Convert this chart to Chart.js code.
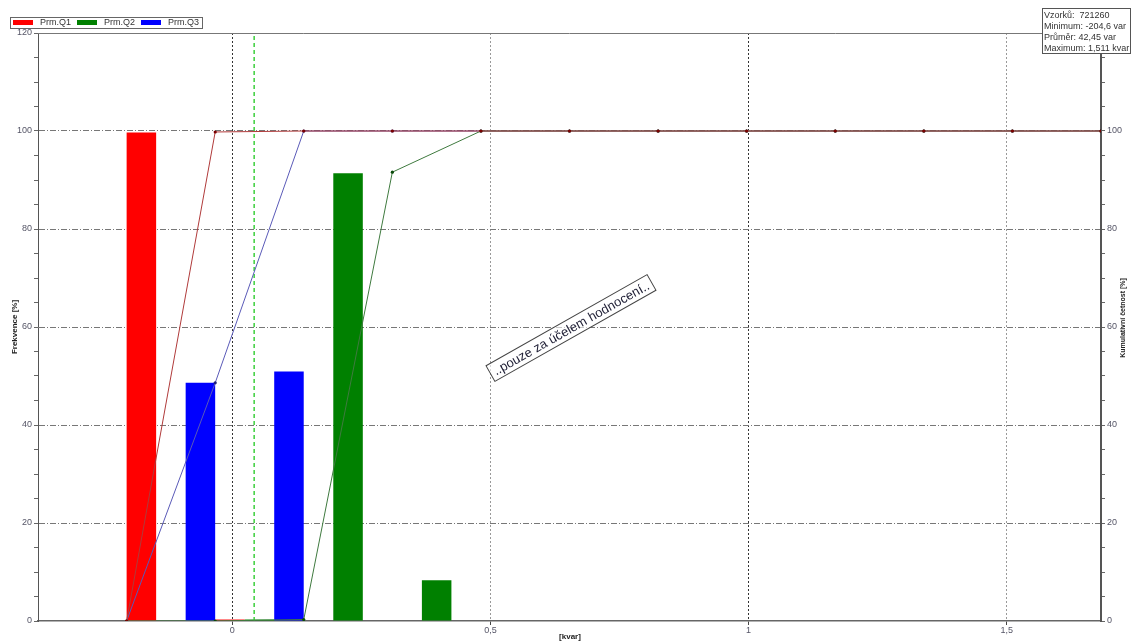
<!DOCTYPE html>
<html>
<head>
<meta charset="utf-8">
<script src="https://cdn.jsdelivr.net/npm/chart.js@4/dist/chart.umd.min.js"></script>
<style>
  html, body { margin: 0; padding: 0; background: #fff; }
  #wrap { width: 1133px; height: 644px; }
</style>
</head>
<body>
<div id="wrap"><canvas id="histChart" width="1133" height="644"></canvas></div>
<script>
// ================== Data ==================
const seriesLabels = ["Prm.Q1", "Prm.Q2", "Prm.Q3"];
const seriesColors = ["#ff0000", "#008000", "#0000ff"];
const cumColors = ["#b03a3a", "#3f7a3f", "#5a5ab8"];
const cumPointColors = ["#7a0000", "#0b4a0b", "#20207a"];

// histogram bins [kvar]
const binCenters = [-0.1188, 0.0527, 0.2243, 0.3959, 0.5675, 0.7390, 0.9106, 1.0821, 1.2537, 1.4253];
const binEdges = [-0.2046, -0.0330, 0.1385, 0.3101, 0.4817, 0.6532, 0.8248, 0.9963, 1.1679, 1.3395, 1.5110, 1.6826];

// frequency [%]
const freqQ1 = [99.7, 0.3, 0, 0, 0, 0, 0, 0, 0, 0];
const freqQ2 = [0, 0.3, 91.4, 8.3, 0, 0, 0, 0, 0, 0];
const freqQ3 = [48.6, 50.9, 0, 0, 0, 0, 0, 0, 0, 0];

// cumulative frequency [%] at bin edges
const cumQ1 = [0, 99.8, 100, 100, 100, 100, 100, 100, 100, 100, 100, 100];
const cumQ2 = [0, 0, 0.3, 91.6, 100, 100, 100, 100, 100, 100, 100, 100];
const cumQ3 = [0, 48.6, 100, 100, 100, 100, 100, 100, 100, 100, 100, 100];

const meanKvar = 0.04245;
const xRange = [-0.3762, 1.6826];
const xTickValues = [0, 0.5, 1, 1.5];
const yRange = [0, 120];
const infoLines = ["Vzorků:  721260", "Minimum: -204,6 var", "Průměr: 42,45 var", "Maximum: 1,511 kvar"];
const watermark = "..pouze za účelem hodnocení..";

const FONT = '"Liberation Sans", Arial, sans-serif';
Chart.defaults.font.family = FONT;

const toPoints = (xs, ys) => xs.map((x, i) => ({ x, y: ys[i] }));

// ----- extra drawing: legend box, info box, watermark, axis titles -----
const decorPlugin = {
  id: "decor",
  afterDraw(chart) {
    const { ctx, chartArea: a } = chart;
    ctx.save();

    // top border of the plot
    ctx.strokeStyle = "#777";
    ctx.lineWidth = 1;
    ctx.beginPath();
    ctx.moveTo(a.left, a.top + 0.5);
    ctx.lineTo(a.right, a.top + 0.5);
    ctx.stroke();

    // legend
    ctx.fillStyle = "#fff";
    ctx.fillRect(10, 17, 192, 11);
    ctx.strokeStyle = "#666";
    ctx.strokeRect(10.5, 17.5, 192, 11);
    ctx.font = "9px " + FONT;
    ctx.textBaseline = "middle";
    const bars = chart.data.datasets.filter(d => d.type === "bar");
    let lx = 13;
    bars.forEach(d => {
      ctx.fillStyle = d.backgroundColor;
      ctx.fillRect(lx, 20, 20, 5);
      ctx.fillStyle = "#333";
      ctx.fillText(d.label, lx + 27, 23);
      lx += 64;
    });

    // info box
    ctx.fillStyle = "#fff";
    ctx.fillRect(1042, 8, 88, 45);
    ctx.strokeStyle = "#555";
    ctx.strokeRect(1042.5, 8.5, 88, 45);
    ctx.fillStyle = "#333";
    ctx.textBaseline = "alphabetic";
    infoLines.forEach((t, i) => ctx.fillText(t, 1044, 18 + i * 11));

    // watermark
    ctx.translate(571, 328);
    ctx.rotate(-29.5 * Math.PI / 180);
    ctx.font = "13px " + FONT;
    const w = ctx.measureText(watermark).width + 8;
    ctx.fillStyle = "rgba(255,255,255,0.6)";
    ctx.fillRect(-w / 2, -9, w, 18);
    ctx.strokeStyle = "#444";
    ctx.strokeRect(-w / 2, -9, w, 18);
    ctx.fillStyle = "#222238";
    ctx.textAlign = "center";
    ctx.textBaseline = "middle";
    ctx.fillText(watermark, 0, 1);
    ctx.setTransform(1, 0, 0, 1, 0, 0);

    // axis titles
    ctx.fillStyle = "#222";
    ctx.textAlign = "center";
    ctx.textBaseline = "middle";
    ctx.font = "bold 8px " + FONT;
    ctx.fillText("[kvar]", 570, 637);
    ctx.translate(15, 327);
    ctx.rotate(-Math.PI / 2);
    ctx.fillText("Frekvence [%]", 0, 0);
    ctx.setTransform(1, 0, 0, 1, 0, 0);
    ctx.font = "bold 7px " + FONT;
    ctx.translate(1123, 318);
    ctx.rotate(-Math.PI / 2);
    ctx.fillText("Kumulativní četnost [%]", 0, 0);

    ctx.restore();
  }
};

// ================== Chart ==================
const barSet = (i, freq) => ({
  type: "bar",
  label: seriesLabels[i],
  data: toPoints(binCenters, freq),
  backgroundColor: seriesColors[i],
  borderWidth: 0,
  inflateAmount: 0,
  categoryPercentage: 1,
  barPercentage: 1,
  yAxisID: "y",
  order: 5
});

const cumSet = (i, cum) => ({
  type: "line",
  label: seriesLabels[i] + " kum.",
  data: toPoints(binEdges, cum),
  borderColor: cumColors[i],
  borderWidth: 1,
  pointRadius: 1.6,
  pointBorderWidth: 0,
  pointBackgroundColor: cumPointColors[i],
  tension: 0,
  yAxisID: "y1",
  order: i
});

const yTickLabel = v => (v % 20 === 0 ? String(v) : "");

new Chart(document.getElementById("histChart").getContext("2d"), {
  data: {
    datasets: [
      barSet(0, freqQ1),
      barSet(1, freqQ2),
      barSet(2, freqQ3),
      cumSet(0, cumQ1),
      cumSet(1, cumQ2),
      cumSet(2, cumQ3),
      {
        type: "line",
        label: "Průměr",
        data: [{ x: meanKvar, y: yRange[0] }, { x: meanKvar, y: yRange[1] }],
        borderColor: "#3ccf3c",
        borderWidth: 1.5,
        borderDash: [4, 3],
        pointRadius: 0,
        yAxisID: "y",
        order: 3
      }
    ]
  },
  options: {
    responsive: false,
    animation: false,
    layout: { padding: { top: 33, left: 0, right: 0, bottom: 0 } },
    plugins: { legend: { display: false }, tooltip: { enabled: false } },
    scales: {
      x: {
        type: "linear",
        offset: false,
        min: xRange[0],
        max: xRange[1],
        afterBuildTicks: s => { s.ticks = xTickValues.map(v => ({ value: v })); },
        afterFit: s => { s.height = 23; },
        ticks: {
          autoSkip: false,
          maxRotation: 0,
          padding: 0,
          color: "#555566",
          font: { size: 9 },
          callback: v => String(v).replace(".", ",")
        },
        grid: {
          offset: false,
          color: c => (c.tick && (c.tick.value === 0 || c.tick.value === 1) ? "#333" : "#999"),
          lineWidth: 1,
          tickLength: 4,
          tickColor: "#444"
        },
        border: { display: true, color: "#666", width: 1.5, dash: c => (c.tick ? [2, 2] : []) }
      },
      y: {
        position: "left",
        min: yRange[0],
        max: yRange[1],
        afterFit: s => { s.width = 38; },
        ticks: {
          stepSize: 5,
          autoSkip: false,
          padding: 2,
          color: "#555566",
          font: { size: 9 },
          callback: yTickLabel
        },
        grid: {
          color: c => (c.tick && c.tick.value % 20 === 0 && c.tick.value > 0 && c.tick.value < 120 ? "#777" : "rgba(0,0,0,0)"),
          lineWidth: 1,
          tickLength: 4,
          tickColor: "#666"
        },
        border: { display: true, color: "#555", width: 1, dash: c => (c.tick ? [6, 2, 1, 2] : []) }
      },
      y1: {
        position: "right",
        min: yRange[0],
        max: yRange[1],
        afterFit: s => { s.width = 32; },
        ticks: {
          stepSize: 5,
          autoSkip: false,
          padding: 2,
          color: "#555566",
          font: { size: 9 },
          callback: yTickLabel
        },
        grid: { drawOnChartArea: false, tickLength: 4, tickColor: "#666" },
        border: { display: true, color: "#555", width: 2 }
      }
    }
  },
  plugins: [decorPlugin]
});
</script>
</body>
</html>
